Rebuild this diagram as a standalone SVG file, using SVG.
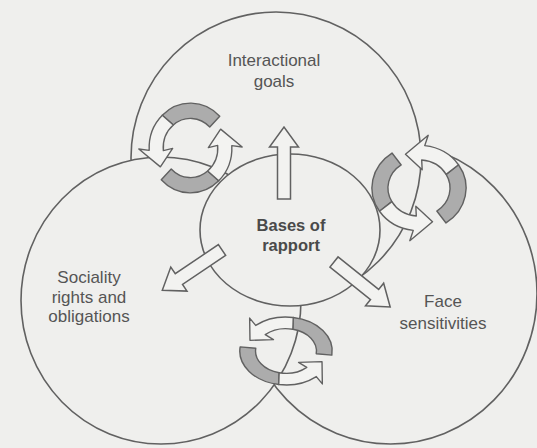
<svg xmlns="http://www.w3.org/2000/svg" xmlns:xlink="http://www.w3.org/1999/xlink" width="537" height="448" viewBox="0 0 537 448">
  <style>
    .bg { fill: #efefed; }
    .ring { fill: #efefed; stroke: #616161; stroke-width: 1.6; }
    .core { fill: #efefed; stroke: #616161; stroke-width: 1.6; }
    .block { fill: #f2f2f0; stroke: #616161; stroke-width: 1.5; stroke-linejoin: miter; }
    .dark { fill: #acacac; stroke: #616161; stroke-width: 1.4; stroke-linejoin: round; }
    .light { fill: #f3f3f1; stroke: #616161; stroke-width: 1.4; stroke-linejoin: round; }
    .label { font-family: "Liberation Sans", Arial, Helvetica, sans-serif; font-size: 17px; fill: #555; text-anchor: middle; }
    .title { font-family: "Liberation Sans", Arial, Helvetica, sans-serif; font-size: 16.5px; font-weight: bold; fill: #4a4a4a; text-anchor: middle; }
  </style>
  <defs>
    <!-- hollow block arrow, tail at origin, pointing up -->
    <path id="blockArrow" class="block" d="M-6.5,0 V-52 H-14.5 L0,-72 L14.5,-52 H6.5 V0 Z"/>
    <!-- pair of curved arrows chasing each other round a ring:
         shaded tail band, then a plain band ending in a barbed head -->
    <g id="cycle">
      <path class="dark" vector-effect="non-scaling-stroke" d="M44,0 A44,44 0 0,0 1.536,-43.973 L3.031,-28.841 A29,29 0 0,1 29,0 Z"/>
      <path class="light" vector-effect="non-scaling-stroke" d="M1.536,-43.973 A44,44 0 0,0 -32.698,-29.442 L-39.564,-38.206 L-35.739,-9.576 L-13.667,-13.199 L-22.215,-18.641 A29,29 0 0,1 3.031,-28.841 Z"/>
      <path class="dark" vector-effect="non-scaling-stroke" d="M-44,0 A44,44 0 0,0 -1.536,43.973 L-3.031,28.841 A29,29 0 0,1 -29,0 Z"/>
      <path class="light" vector-effect="non-scaling-stroke" d="M-1.536,43.973 A44,44 0 0,0 32.698,29.442 L39.564,38.206 L35.739,9.576 L13.667,13.199 L22.215,18.641 A29,29 0 0,1 -3.031,28.841 Z"/>
    </g>
  </defs>

  <rect class="bg" x="0" y="0" width="537" height="448"/>

  <!-- the three overlapping domains, painted in order so each hides the arcs it covers -->
  <g id="face-sensitivities">
    <ellipse class="ring" cx="390.5" cy="293.5" rx="146.5" ry="150.5"/>
  </g>
  <g id="interactional-goals">
    <ellipse class="ring" cx="276" cy="158" rx="145" ry="146"/>
  </g>
  <g id="sociality-rights">
    <ellipse class="ring" cx="161" cy="300.5" rx="140" ry="143.5"/>
  </g>

  <!-- centre -->
  <g id="bases-of-rapport">
    <ellipse class="core" cx="290" cy="230" rx="90" ry="76"/>
  </g>

  <g id="connectors">
    <use xlink:href="#blockArrow" transform="translate(284,199)"/>
    <use xlink:href="#blockArrow" transform="translate(222,250) rotate(-124)"/>
    <use xlink:href="#blockArrow" transform="translate(334,262) rotate(128.7)"/>
    <use xlink:href="#cycle" transform="translate(190.5,148) scale(0.94,1.02) rotate(-45)"/>
    <use xlink:href="#cycle" transform="translate(419,188) scale(1.07,0.97) rotate(-125)"/>
    <use xlink:href="#cycle" transform="translate(286,351) scale(1.05,0.77) rotate(7)"/>
  </g>

  <g id="labels">
    <text class="label" x="274" y="66">Interactional</text>
    <text class="label" x="274" y="87">goals</text>
    <text class="title" x="291" y="231">Bases of</text>
    <text class="title" x="291" y="251">rapport</text>
    <text class="label" x="89" y="283">Sociality</text>
    <text class="label" x="89" y="303">rights and</text>
    <text class="label" x="89" y="322">obligations</text>
    <text class="label" x="443" y="307">Face</text>
    <text class="label" x="443" y="329">sensitivities</text>
  </g>
</svg>
